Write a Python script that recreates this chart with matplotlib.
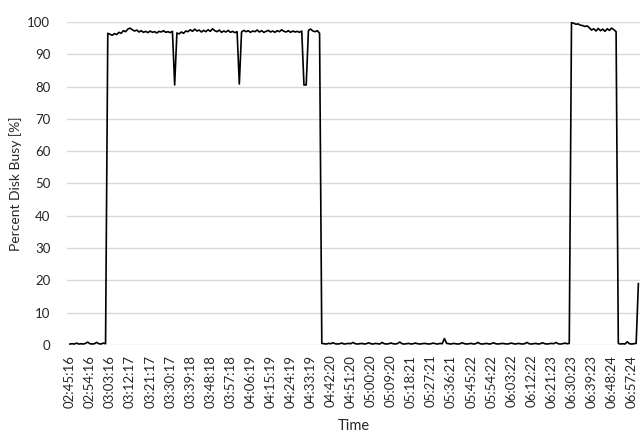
import matplotlib
matplotlib.use("Agg")
import matplotlib.pyplot as plt
import numpy as np

plt.rcParams['font.family'] = ['Lato', 'DejaVu Sans']

# disk busy samples (1 per minute)
idle_start = [0.3, 0.4, 0.3, 0.6, 0.3, 0.4, 0.3, 0.5, 0.9, 0.4, 0.3, 0.4, 0.8, 0.4, 0.3, 0.6, 0.4]

busy_1 = [96.5, 96.2, 95.9, 96.4, 96.1, 96.8, 96.5, 97.3, 97.0, 97.8, 98.1, 97.6,
          97.2, 97.5, 96.9, 97.3, 96.8, 97.1, 96.7, 97.2, 96.8, 97.0, 96.6, 97.1,
          96.9, 97.3, 96.8, 97.0, 96.7, 97.1, 80.5, 96.6, 96.3, 96.9, 96.5, 97.2,
          97.0, 97.6, 97.1, 97.8, 97.2, 97.5, 96.9, 97.4, 97.0, 97.6, 97.1, 97.9,
          97.3, 97.0, 97.5, 96.8, 97.2, 96.9, 97.4, 96.8, 97.1, 96.7, 97.0, 80.8,
          96.9, 97.4, 97.0, 97.3, 96.8, 97.2, 97.0, 97.5, 96.9, 97.3, 96.8, 97.1,
          97.4, 96.9, 97.2, 96.8, 97.3, 97.0, 97.6, 97.1, 96.9, 97.3, 96.8, 97.2,
          96.9, 97.1, 96.8, 97.2, 80.5, 80.5, 97.4, 97.8, 97.2, 97.0, 97.3, 96.5]

idle_mid = [0.5, 0.4, 0.3, 0.5, 0.4, 0.7, 0.4, 0.3, 0.4, 0.6, 0.3, 0.4, 0.5, 0.4,
            0.8, 0.4, 0.3, 0.4, 0.5, 0.3, 0.4, 0.7, 0.4, 0.3, 0.5, 0.4, 0.3, 0.8,
            0.4, 0.3, 0.4, 0.6, 0.4, 0.3, 0.5, 0.9, 0.4, 0.3, 0.4, 0.5, 0.3, 0.4,
            0.6, 0.4, 0.3, 0.4, 0.5, 0.4, 0.3, 0.4, 0.6, 0.4, 0.3, 0.5, 0.4, 2.0,
            0.5, 0.4, 0.3, 0.5, 0.4, 0.3, 0.4, 0.7, 0.4, 0.3, 0.4, 0.5, 0.3, 0.4,
            0.8, 0.4, 0.3, 0.4, 0.5, 0.3, 0.4, 0.7, 0.4, 0.3, 0.4, 0.5, 0.4, 0.3,
            0.4, 0.6, 0.4, 0.3, 0.5, 0.4, 0.3, 0.4, 0.8, 0.4, 0.3, 0.4, 0.5, 0.3,
            0.4, 0.7, 0.4, 0.3, 0.4, 0.5, 0.4, 0.8, 0.4, 0.3, 0.4, 0.6, 0.4, 0.5]

busy_2 = [99.8, 99.6, 99.3, 99.4, 99.0, 98.9, 98.6, 98.8, 98.2, 97.5, 97.9,
          97.2, 98.0, 97.3, 97.8, 97.1, 97.9, 97.4, 98.1, 97.6, 97.0]

idle_end = [0.5, 0.3, 0.4, 0.3, 1.0, 0.4, 0.3, 0.4, 0.5, 19.0]

tick_labels = ['02:45:16', '02:54:16', '03:03:16', '03:12:17', '03:21:17', '03:30:17',
               '03:39:18', '03:48:18', '03:57:18', '04:06:19', '04:15:19', '04:24:19',
               '04:33:19', '04:42:20', '04:51:20', '05:00:20', '05:09:20', '05:18:21',
               '05:27:21', '05:36:21', '05:45:22', '05:54:22', '06:03:22', '06:12:22',
               '06:21:23', '06:30:23', '06:39:23', '06:48:24', '06:57:24']

busy = idle_start + busy_1 + idle_mid + busy_2 + idle_end
x = np.arange(len(busy))

fig = plt.figure(figsize=(6.41, 4.45), dpi=100)
ax = fig.add_axes([0.1045, 0.2247, 0.8935, 0.7259])

ax.plot(x, busy, color='black', lw=1.2, clip_on=False, zorder=3)

ax.set_ylim(0, 100)
ax.set_yticks(np.arange(0, 101, 10))
ax.set_xlim(-1.3, 255.6)
ax.set_xticks(np.arange(0, 9 * len(tick_labels), 9))
ax.set_xticklabels(tick_labels, rotation=90)

ax.grid(axis='y', color='#d9d9d9', lw=1)
ax.set_axisbelow(True)
for s in ax.spines.values():
    s.set_visible(False)
ax.tick_params(axis='both', length=0, labelsize=9.5, colors='#262626')
ax.tick_params(axis='x', pad=7)
ax.tick_params(axis='y', pad=12)

ax.set_xlabel('Time', fontsize=10.5, color='#262626', labelpad=8)
ax.set_ylabel('Percent Disk Busy [%]', fontsize=10, color='#262626', labelpad=4)

fig.savefig('out.png', dpi=100)
